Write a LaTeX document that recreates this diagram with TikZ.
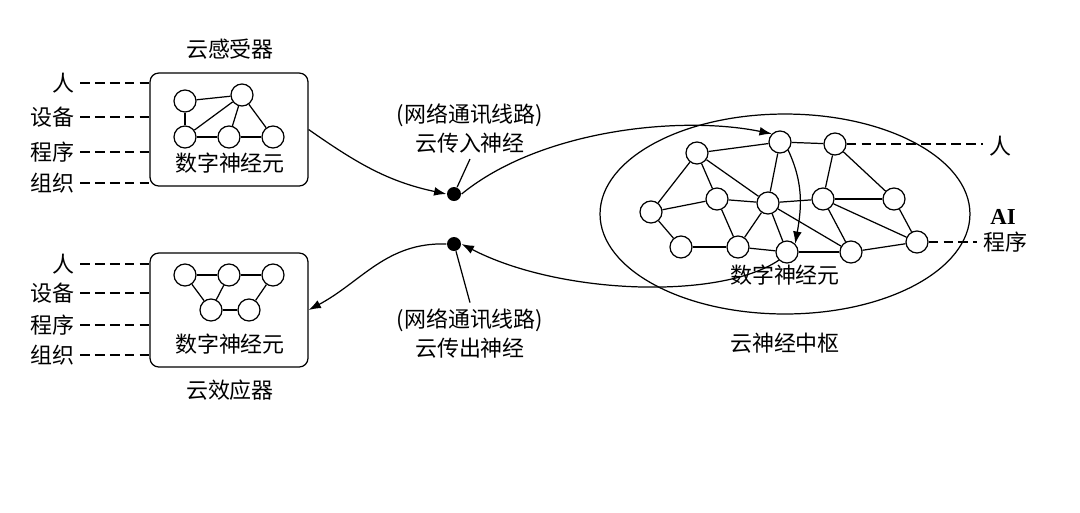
\documentclass[tikz,border=0pt]{standalone}
\usepackage{fontspec}
\setmainfont{Liberation Serif}
\newfontfamily\cjk{Noto Sans CJK SC}
\usetikzlibrary{arrows.meta,calc,positioning,shapes.geometric}

\begin{document}
\begin{tikzpicture}[x=0.02cm,y=-0.02cm,line width=0.7pt,
  cell/.style={circle,draw,fill=white,minimum size=0.44cm,inner sep=0pt},
  txt/.style={font=\cjk\fontsize{12.5}{15}\selectfont,inner sep=3pt},
  organ/.style={draw,rounded corners=5pt,minimum width=3.16cm},
  relay/.style={circle,fill,minimum size=0.28cm,inner sep=0pt},
  sig/.style={-{Latex[length=7pt,width=5pt]}},
  tie/.style={dash pattern=on 5.5pt off 3pt}]
\useasboundingbox (0,0) rectangle (1080,512);

% cloud receptor
\node[organ,minimum height=2.26cm] (sensor) at (229,129.5) {};
\node[txt] (sensorname) at (230,49) {云感受器};
\node[txt] (sensortext) at (230,163) {数字神经元};
\node[cell] (s1) at (185,101) {};
\node[cell] (s2) at (242,95) {};
\node[cell] (s3) at (185,137) {};
\node[cell] (s4) at (229,137) {};
\node[cell] (s5) at (273,137) {};
\foreach \a/\b in {s1/s2,s1/s3,s3/s2,s3/s4,s4/s2,s4/s5,s2/s5}
  \draw (\a) -- (\b);
\foreach \t/\y/\n in {人/83/a,设备/117/b,程序/152/c,组织/183/d} {
  \node[txt,anchor=east] (in\n) at (80,\y) {\t};
  \draw[tie] (in\n.east) -- (in\n.east -| sensor.west);
}

% cloud effector
\node[organ,minimum height=2.28cm] (effector) at (229,310) {};
\node[txt] (effectorname) at (230,390) {云效应器};
\node[txt] (effectortext) at (230,344) {数字神经元};
\node[cell] (e1) at (185,275) {};
\node[cell] (e2) at (229,275) {};
\node[cell] (e3) at (273,275) {};
\node[cell] (e4) at (211,310) {};
\node[cell] (e5) at (249,310) {};
\foreach \a/\b in {e1/e2,e2/e3,e1/e4,e2/e4,e4/e5,e5/e3}
  \draw (\a) -- (\b);
\foreach \t/\y/\n in {人/264/a,设备/293/b,程序/325/c,组织/355/d} {
  \node[txt,anchor=east] (out\n) at (80,\y) {\t};
  \draw[tie] (out\n.east) -- (out\n.east -| effector.west);
}

% nerves
\node[relay] (afferent) at (454,194) {};
\node[relay] (efferent) at (454,244) {};
\node[txt] (affnet) at (470,115) {(网络通讯线路)};
\node[txt] (afftext) at (470,143) {云传入神经};
\node[txt] (effnet) at (470,320) {(网络通讯线路)};
\node[txt] (efftext) at (470,348) {云传出神经};
\draw (afftext.south) -- (afferent);
\draw (efferent) -- (effnet.north);

% cloud nerve centre
\node[draw,ellipse,minimum width=7.4cm,minimum height=4cm] (hub) at (785,214) {};
\node[txt] (hubtext) at (785,275) {数字神经元};
\node[txt] (hubname) at (785,343) {云神经中枢};
\node[cell] (c1) at (697,153) {};
\node[cell] (c2) at (780,142) {};
\node[cell] (c3) at (835,144) {};
\node[cell] (c4) at (651,212) {};
\node[cell] (c5) at (717,199) {};
\node[cell] (c6) at (768,203) {};
\node[cell] (c7) at (823,199) {};
\node[cell] (c8) at (894,199) {};
\node[cell] (c9) at (681,247) {};
\node[cell] (c10) at (738,247) {};
\node[cell] (c11) at (787,252) {};
\node[cell] (c12) at (851,252) {};
\node[cell] (c13) at (917,242) {};
\foreach \a/\b in {c1/c2,c2/c3,c1/c4,c1/c5,c1/c6,c2/c6,c3/c7,c3/c8,
  c4/c5,c4/c9,c5/c6,c5/c10,c6/c7,c6/c10,c6/c11,c6/c12,c7/c8,c7/c12,
  c7/c13,c8/c13,c9/c10,c10/c11,c11/c12,c12/c13}
  \draw (\a) -- (\b);
\node[txt] (hubperson) at (1000,146) {人};
\node[font=\bfseries\fontsize{13}{15}\selectfont,inner sep=0pt] (hubai) at (1003,217) {AI};
\node[txt] (hubprog) at (1005,242) {程序};
\draw[tie] (c3.east) -- (c3.east -| hubperson.west);
\draw[tie] (c13.east) -- (c13.east -| hubprog.west);

% signal path
\draw[sig] (sensor.east) to[out=-35,in=168] (afferent.west);
\draw[sig] (afferent.east) .. controls (540,130) and (680,115) .. (c2.north west);
\draw[sig] (c2.south east) to[out=-65,in=80] (c11.north east);
\draw[sig] (c11.south west) .. controls (720,300) and (560,295) .. (efferent.east);
\draw[sig] (efferent.west) to[out=178,in=28] (effector.east);
\end{tikzpicture}
\end{document}
